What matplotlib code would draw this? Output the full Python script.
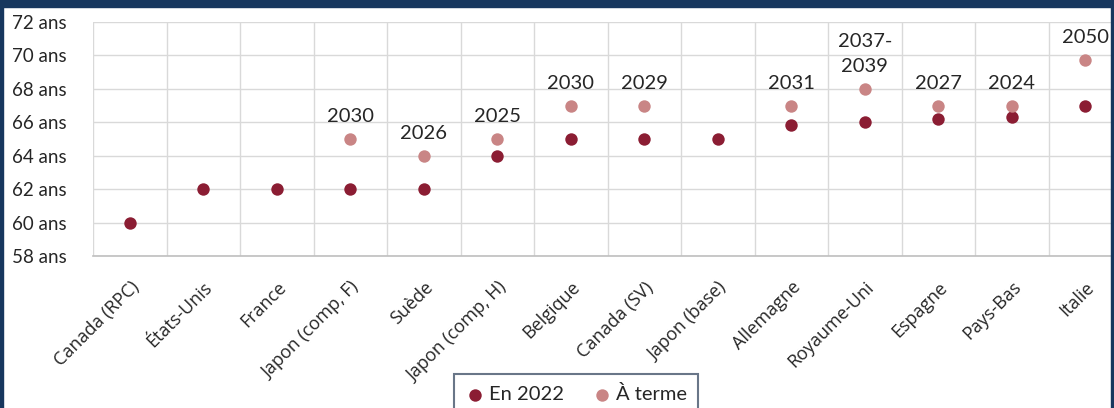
import matplotlib.pyplot as plt
from matplotlib.patches import Rectangle

pays = ["Canada (RPC)", "États-Unis", "France", "Japon (comp, F)", "Suède",
        "Japon (comp, H)", "Belgique", "Canada (SV)", "Japon (base)", "Allemagne",
        "Royaume-Uni", "Espagne", "Pays-Bas", "Italie"]
en_2022 = [60, 62, 62, 62, 62, 64, 65, 65, 65, 65.83, 66, 66.17, 66.33, 67]
a_terme = [None, None, None, 65, 64, 65, 67, 67, None, 67, 68, 67, 67, 69.75]
annee = ["", "", "", "2030", "2026", "2025", "2030", "2029", "", "2031",
         "2037-\n2039", "2027", "2024", "2050"]

fonce = "#8b1d33"
clair = "#c98585"
texte = "#262626"

fig = plt.figure(figsize=(11.14, 4.08), dpi=100)
ax = fig.add_axes([93 / 1114, 152 / 408, 1029 / 1114, 234 / 408])

x = list(range(len(pays)))
xt = [i for i in x if a_terme[i] is not None]
yt = [a_terme[i] for i in xt]

ax.scatter(x, en_2022, s=80, color=fonce, zorder=3, label="En 2022", linewidths=0)
ax.scatter(xt, yt, s=80, color=clair, zorder=3, label="À terme", linewidths=0)

for i in xt:
    ax.annotate(annee[i], (i, a_terme[i]), xytext=(0, 10), textcoords="offset points",
                ha="center", va="bottom", fontsize=14.5, color=texte,
                family="Lato", linespacing=1.55)

ax.set_xlim(-0.5, len(pays) - 0.5)
ax.set_ylim(58, 72)
ax.set_yticks(range(58, 73, 2))
ax.set_yticklabels([f"{v} ans" for v in range(58, 73, 2)], fontsize=13.5,
                   color=texte, family="Lato", ha="left")
ax.set_xticks(x)
ax.set_xticklabels(pays, rotation=45, ha="right", rotation_mode="anchor",
                   fontsize=13, color=texte, family="Open Sans")
ax.set_xticks([i - 0.5 for i in range(len(pays) + 1)], minor=True)
ax.tick_params(axis="both", which="both", length=0)
ax.tick_params(axis="x", which="major", pad=16)
ax.tick_params(axis="y", pad=58)

ax.grid(axis="y", color="#d9d9d9", linewidth=1)
ax.grid(axis="x", which="minor", color="#d9d9d9", linewidth=1)
for s in ["top", "right", "left"]:
    ax.spines[s].set_visible(False)
ax.spines["bottom"].set_color("#bfbfbf")
ax.spines["bottom"].set_linewidth(1.2)

leg = fig.legend(loc="upper center", bbox_to_anchor=(576 / 1114, 44 / 408), ncol=2,
                 frameon=True, fancybox=False, edgecolor="#44546a",
                 handletextpad=0.2, columnspacing=1.4, handlelength=1.0,
                 borderpad=0.55, markerscale=1.0, prop={"family": "Lato", "size": 14.5})
leg.get_frame().set_linewidth(1.5)
for t in leg.get_texts():
    t.set_color(texte)

navy = "#17375e"
fig.add_artist(Rectangle((0, 1 - 7 / 408), 1, 7 / 408, transform=fig.transFigure,
                         color=navy, zorder=10))
fig.add_artist(Rectangle((0, 0), 3 / 1114, 1, transform=fig.transFigure,
                         color=navy, zorder=10))
fig.add_artist(Rectangle((1 - 3 / 1114, 0), 3 / 1114, 1, transform=fig.transFigure,
                         color=navy, zorder=10))

fig.savefig("out.png", dpi=100)
